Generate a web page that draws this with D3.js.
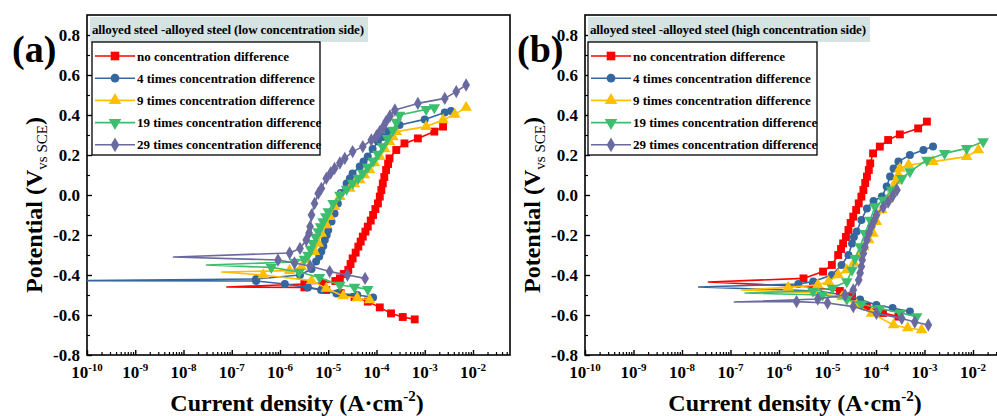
<!DOCTYPE html>
<html><head><meta charset="utf-8">
<script src="https://cdn.jsdelivr.net/npm/d3@7"></script>
<style>
body{margin:0;background:#fff}
svg{display:block}
text{font-family:"Liberation Serif","Times New Roman",serif;font-weight:bold;fill:#000}
</style>
</head><body>
<svg id="chart" width="997" height="416"></svg>
<script>
// ---------- labels ----------
const seriesLabels = ["no concentration difference","4 times concentration difference","9 times concentration difference","19 times concentration difference","29 times concentration difference"];
const seriesColors = ["#ff0000","#35679f","#ffbf00","#3cbe6e","#6a6aa0"];
const panelTitles = ["alloyed steel -alloyed steel (low concentration side)","alloyed steel -alloyed steel (high concentration side)"];
const panelLetters = ["(a)","(b)"];
const yTickValues = [-0.8,-0.6,-0.4,-0.2,0.0,0.2,0.4,0.6,0.8];
const yMinorValues = [-0.7,-0.5,-0.3,-0.1,0.1,0.3,0.5,0.7];
const xTickValues = [1e-10,1e-9,1e-8,1e-7,1e-6,1e-5,1e-4,1e-3,1e-2];
const xTickExponents = ["-10","-9","-8","-7","-6","-5","-4","-3","-2"];

// ---------- data: [current density (A/cm2), potential (V vs SCE)] ----------
// panel (a) low concentration side
const a_none = [[6.2e-4,-0.622],[3.5e-4,-0.61],[2.0e-4,-0.592],[1.17e-4,-0.562],[6.6e-5,-0.533],[3.5e-5,-0.51],[1.8e-5,-0.49],[9.1e-6,-0.475],[3.2e-6,-0.462],[7.9e-8,-0.46],[3.2e-6,-0.445],[7.8e-6,-0.44],[1.4e-5,-0.43],[1.74e-5,-0.417],[2.1e-5,-0.395],[2.6e-5,-0.375],[2.9e-5,-0.345],[3.2e-5,-0.317],[3.7e-5,-0.288],[4.2e-5,-0.258],[4.7e-5,-0.233],[5.2e-5,-0.208],[5.9e-5,-0.183],[6.6e-5,-0.158],[7.6e-5,-0.128],[8.5e-5,-0.10],[9.5e-5,-0.07],[1.07e-4,-0.042],[1.17e-4,-0.008],[1.26e-4,0.025],[1.35e-4,0.058],[1.45e-4,0.09],[1.58e-4,0.125],[1.74e-4,0.155],[1.86e-4,0.183],[2.57e-4,0.225],[3.8e-4,0.258],[7.2e-4,0.283],[1.58e-3,0.317],[2.4e-3,0.342]];
const a_x4 = [[8.5e-5,-0.512],[4.0e-5,-0.50],[1.48e-5,-0.492],[7.1e-6,-0.475],[3.8e-6,-0.462],[1.26e-6,-0.445],[3.2e-7,-0.43],[1e-10,-0.428],[3.2e-7,-0.42],[2.6e-6,-0.40],[4.5e-6,-0.37],[5.6e-6,-0.333],[6.5e-6,-0.308],[7.2e-6,-0.283],[7.9e-6,-0.255],[8.5e-6,-0.225],[9.3e-6,-0.20],[1.0e-5,-0.175],[1.17e-5,-0.133],[1.35e-5,-0.092],[1.58e-5,-0.042],[1.82e-5,0.01],[2.4e-5,0.058],[2.8e-5,0.083],[3.2e-5,0.108],[4.5e-5,0.142],[5.4e-5,0.167],[6.6e-5,0.192],[8.3e-5,0.23],[1.07e-4,0.267],[1.35e-4,0.29],[1.74e-4,0.317],[3.0e-4,0.35],[1.0e-3,0.378],[2.6e-3,0.412],[3.5e-3,0.42]];
const a_x9 = [[7.2e-5,-0.525],[4.0e-5,-0.515],[2.04e-5,-0.505],[9.1e-6,-0.467],[4.5e-6,-0.428],[4.5e-7,-0.40],[6.2e-8,-0.385],[1.58e-6,-0.378],[2.8e-6,-0.36],[3.5e-6,-0.325],[5.2e-6,-0.283],[6.2e-6,-0.242],[7.2e-6,-0.192],[9.1e-6,-0.15],[1.07e-5,-0.108],[1.35e-5,-0.058],[1.74e-5,-0.008],[2.8e-5,0.033],[3.5e-5,0.055],[4.5e-5,0.075],[5.6e-5,0.10],[7.2e-5,0.125],[9.1e-5,0.16],[1.17e-4,0.192],[1.48e-4,0.23],[1.86e-4,0.267],[2.2e-4,0.29],[2.57e-4,0.317],[1.07e-3,0.342],[2.4e-3,0.375],[4.2e-3,0.403],[7.2e-3,0.438]];
const a_x19 = [[6.6e-5,-0.472],[3.5e-5,-0.46],[1.74e-5,-0.45],[6.6e-6,-0.412],[2.5e-6,-0.385],[6.6e-7,-0.362],[3.0e-8,-0.35],[2.0e-6,-0.335],[3.2e-6,-0.32],[3.8e-6,-0.30],[4.3e-6,-0.27],[4.8e-6,-0.242],[5.5e-6,-0.21],[6.2e-6,-0.183],[6.9e-6,-0.158],[7.8e-6,-0.133],[8.9e-6,-0.108],[1.0e-5,-0.083],[1.26e-5,-0.042],[1.74e-5,0.0],[2.4e-5,0.03],[3.2e-5,0.06],[4.2e-5,0.085],[5.2e-5,0.11],[6.6e-5,0.14],[8.5e-5,0.17],[1.07e-4,0.205],[1.35e-4,0.242],[1.7e-4,0.283],[2.2e-4,0.325],[2.57e-4,0.365],[3.0e-4,0.40],[1.07e-3,0.428],[1.58e-3,0.437]];
const a_x29 = [[5.8e-5,-0.417],[2.5e-5,-0.40],[1.07e-5,-0.383],[4.2e-6,-0.355],[2.0e-6,-0.34],[9.1e-7,-0.325],[6.2e-9,-0.31],[1.58e-6,-0.29],[2.6e-6,-0.267],[3.5e-6,-0.225],[4.0e-6,-0.19],[4.2e-6,-0.158],[4.5e-6,-0.10],[5.2e-6,-0.042],[6.2e-6,0.008],[7.2e-6,0.033],[9.1e-6,0.083],[1.12e-5,0.11],[1.35e-5,0.133],[1.74e-5,0.16],[2.2e-5,0.183],[3.2e-5,0.217],[5.2e-5,0.242],[7.8e-5,0.275],[1.0e-4,0.295],[1.17e-4,0.317],[1.38e-4,0.34],[1.58e-4,0.367],[1.9e-4,0.395],[2.4e-4,0.425],[7.2e-4,0.458],[2.6e-3,0.483],[4.5e-3,0.517],[7.2e-3,0.55]];
// panel (b) high concentration side
const b_none = [[2.9e-4,-0.608],[1.4e-4,-0.59],[6.5e-5,-0.558],[3.2e-5,-0.508],[1.8e-5,-0.48],[5.0e-6,-0.46],[3.5e-8,-0.435],[3.2e-6,-0.417],[8.1e-6,-0.383],[1.23e-5,-0.35],[1.66e-5,-0.30],[1.9e-5,-0.27],[2.1e-5,-0.242],[2.4e-5,-0.21],[2.7e-5,-0.175],[3.0e-5,-0.14],[3.4e-5,-0.108],[3.9e-5,-0.075],[4.4e-5,-0.042],[5.0e-5,-0.008],[5.5e-5,0.025],[6.0e-5,0.06],[6.5e-5,0.092],[7.1e-5,0.125],[7.6e-5,0.158],[8.7e-5,0.208],[1.2e-4,0.242],[1.78e-4,0.275],[3.1e-4,0.303],[7.4e-4,0.333],[1.12e-3,0.367]];
const b_x4 = [[5.0e-4,-0.583],[2.2e-4,-0.565],[1.02e-4,-0.55],[4.7e-5,-0.522],[2.2e-5,-0.50],[6.3e-6,-0.48],[2.2e-8,-0.46],[2.5e-6,-0.445],[5.1e-6,-0.433],[1.23e-5,-0.40],[1.95e-5,-0.35],[2.7e-5,-0.30],[3.2e-5,-0.242],[3.5e-5,-0.21],[4.0e-5,-0.183],[5.0e-5,-0.125],[6.5e-5,-0.067],[8.9e-5,-0.03],[1.32e-4,-0.008],[1.66e-4,0.042],[1.95e-4,0.092],[2.3e-4,0.133],[2.9e-4,0.167],[5.0e-4,0.20],[9.5e-4,0.225],[1.5e-3,0.242]];
const b_x9 = [[8.7e-4,-0.675],[4.5e-4,-0.665],[2.3e-4,-0.65],[8.1e-5,-0.592],[4.0e-5,-0.55],[2.0e-5,-0.51],[6.3e-6,-0.49],[1.7e-7,-0.475],[1.55e-6,-0.462],[6.3e-6,-0.45],[1.05e-5,-0.433],[1.66e-5,-0.40],[2.5e-5,-0.375],[3.5e-5,-0.34],[4.5e-5,-0.30],[5.6e-5,-0.26],[7.1e-5,-0.225],[8.7e-5,-0.192],[1.02e-4,-0.133],[1.32e-4,-0.075],[1.78e-4,-0.02],[2.2e-4,0.03],[2.6e-4,0.07],[2.9e-4,0.10],[3.1e-4,0.133],[4.7e-4,0.15],[1.5e-3,0.167],[7.4e-3,0.192],[1.29e-2,0.225]];
const b_x19 = [[6.9e-4,-0.608],[3.2e-4,-0.59],[1.2e-4,-0.567],[5.0e-5,-0.545],[2.5e-5,-0.52],[7.9e-6,-0.50],[2.0e-7,-0.49],[5.0e-6,-0.48],[1.26e-5,-0.465],[2.5e-5,-0.433],[3.2e-5,-0.375],[3.7e-5,-0.317],[4.7e-5,-0.258],[5.9e-5,-0.192],[7.6e-5,-0.125],[9.5e-5,-0.058],[1.41e-4,-0.025],[2.1e-4,0.025],[3.4e-4,0.083],[5.0e-4,0.117],[1.12e-3,0.175],[2.6e-3,0.208],[7.4e-3,0.233],[1.62e-2,0.267]];
const b_x29 = [[1.2e-3,-0.65],[6.3e-4,-0.635],[3.4e-4,-0.617],[1.02e-4,-0.592],[3.4e-5,-0.558],[1.0e-5,-0.54],[2.3e-6,-0.533],[1.2e-7,-0.535],[6.3e-6,-0.52],[2.3e-5,-0.50],[3.4e-5,-0.475],[4.4e-5,-0.425],[4.7e-5,-0.39],[5.0e-5,-0.358],[5.2e-5,-0.325],[5.5e-5,-0.292],[5.9e-5,-0.26],[6.5e-5,-0.225],[7.2e-5,-0.19],[8.1e-5,-0.158],[9.1e-5,-0.13],[1.02e-4,-0.10],[1.41e-4,-0.06],[1.78e-4,-0.035],[2.2e-4,-0.005],[2.7e-4,0.025]];

// ---------- layout ----------
const panels = [
  {left:87, top:15, w:423, h:340, decade:48.25, data:[a_none,a_x4,a_x9,a_x19,a_x29],
   titleX:3, titleW:278, legX:5, legW:228, letterX:12},
  {left:585, top:15, w:423, h:340, decade:48.5, data:[b_none,b_x4,b_x9,b_x19,b_x29],
   titleX:3, titleW:282, legX:3, legW:229, letterX:517}
];
const symbolTypes = [d3.symbolSquare, d3.symbolCircle, d3.symbolTriangle, d3.symbolTriangle, d3.symbolDiamond];
const symbolSizes = [62, 50, 58, 58, 52];
const symbolRot = [0,0,0,180,0];

const svg = d3.select("#chart");

panels.forEach((P, pi) => {
  const g = svg.append("g").attr("transform", `translate(${P.left},${P.top})`);
  const x = d3.scaleLog().domain([1e-10, 1e-2]).range([0, P.decade * 8]);
  const xFull = x.copy().domain([1e-10, x.invert(P.w)]).range([0, P.w]);
  const y = d3.scaleLinear().domain([-0.8, 0.9]).range([P.h, 0]);

  const clipId = "clip" + pi;
  svg.append("defs").append("clipPath").attr("id", clipId)
    .append("rect").attr("x", 0).attr("y", 0).attr("width", P.w).attr("height", P.h);

  // minor x ticks
  const minor = xFull.ticks().filter(v => Math.abs(Math.log10(v) - Math.round(Math.log10(v))) > 1e-6);
  g.append("g").attr("transform", `translate(0,${P.h})`)
    .call(d3.axisBottom(xFull).tickValues(minor).tickSize(-3).tickFormat(""))
    .call(a => a.select(".domain").remove())
    .selectAll("line").attr("stroke", "#000").attr("stroke-width", 1.2);
  g.append("g").attr("transform", `translate(0,${P.h})`)
    .call(d3.axisBottom(x).tickValues(xTickValues).tickSize(-5).tickFormat(""))
    .call(a => a.select(".domain").remove())
    .selectAll("line").attr("stroke", "#000").attr("stroke-width", 1.4);
  xTickValues.forEach((v, i) => {
    const t = g.append("text").attr("x", x(v)).attr("y", P.h + 23)
      .attr("text-anchor", "middle").style("font-size", "17px");
    t.append("tspan").text("10");
    t.append("tspan").attr("dy", -7).style("font-size", "11px").text(xTickExponents[i]);
  });

  // y ticks
  g.append("g")
    .call(d3.axisLeft(y).tickValues(yMinorValues).tickSize(-3).tickFormat(""))
    .call(a => a.select(".domain").remove())
    .selectAll("line").attr("stroke", "#000").attr("stroke-width", 1.2);
  const ya = g.append("g")
    .call(d3.axisLeft(y).tickValues(yTickValues).tickSize(-5).tickPadding(7).tickFormat(d => d.toFixed(1)))
    .call(a => a.select(".domain").remove());
  ya.selectAll("line").attr("stroke", "#000").attr("stroke-width", 1.4);
  ya.selectAll("text").style("font-size", "17px").attr("font-family", null).attr("font-weight", "bold")
    .attr("fill", "#000").attr("dy", "0.34em");

  // frame
  g.append("rect").attr("x", 0).attr("y", 0).attr("width", P.w).attr("height", P.h)
    .attr("fill", "none").attr("stroke", "#000").attr("stroke-width", 1.6);

  // series
  const plot = g.append("g").attr("clip-path", `url(#${clipId})`);
  const line = d3.line().x(d => x(d[0])).y(d => y(d[1]));
  P.data.forEach((s, si) => {
    plot.append("path").datum(s).attr("d", line)
      .attr("fill", "none").attr("stroke", seriesColors[si]).attr("stroke-width", 1.6)
      .attr("stroke-linejoin", "round");
    const tip = d3.minIndex(s, d => d[0]);
    const sym = d3.symbol().type(symbolTypes[si]).size(symbolSizes[si]);
    plot.selectAll(null).data(s.filter((d, i) => i !== tip)).join("path")
      .attr("d", sym)
      .attr("transform", d => `translate(${x(d[0])},${y(d[1])}) rotate(${symbolRot[si]})`)
      .attr("fill", seriesColors[si]);
  });

  // panel letter
  svg.append("text").attr("x", P.letterX).attr("y", 62).style("font-size", "38px").text(panelLetters[pi]);

  // legend title
  g.append("rect").attr("x", P.titleX).attr("y", 2).attr("width", P.titleW).attr("height", 25)
    .attr("fill", "#d6e3e3");
  g.append("text").attr("x", P.titleX + 2).attr("y", 19).style("font-size", "13px")
    .attr("textLength", P.titleW - 6).text(panelTitles[pi]);

  // legend box
  const lg = g.append("g").attr("transform", `translate(${P.legX},27)`);
  lg.append("rect").attr("x", 0).attr("y", 0).attr("width", P.legW).attr("height", 113)
    .attr("fill", "#fff").attr("stroke", "#000").attr("stroke-width", 1.3);
  seriesLabels.forEach((lab, si) => {
    const cy = 14 + si * 22.2;
    lg.append("line").attr("x1", 3).attr("x2", 43).attr("y1", cy).attr("y2", cy)
      .attr("stroke", seriesColors[si]).attr("stroke-width", 1.6);
    lg.append("path").attr("d", d3.symbol().type(symbolTypes[si]).size(symbolSizes[si] * 1.2)())
      .attr("transform", `translate(23,${cy}) rotate(${symbolRot[si]})`).attr("fill", seriesColors[si]);
    lg.append("text").attr("x", 45).attr("y", cy + 4.5).style("font-size", "13px").text(lab);
  });

  // axis titles
  const xt = svg.append("text").attr("x", P.left + 210).attr("y", 411).attr("text-anchor", "middle")
    .style("font-size", "24px");
  xt.append("tspan").text("Current density (A\u00B7cm");
  xt.append("tspan").attr("dy", -10).style("font-size", "15px").text("-2");
  xt.append("tspan").attr("dy", 10).text(")");

  const yt = svg.append("text").attr("transform", `translate(${P.left - 45},205) rotate(-90)`)
    .attr("text-anchor", "middle").style("font-size", "24px");
  yt.append("tspan").text("Potential (V");
  yt.append("tspan").attr("dy", 5).style("font-size", "15px").attr("font-weight", "normal").text("vs SCE");
  yt.append("tspan").attr("dy", -5).text(")");
});
</script>
</body></html>
